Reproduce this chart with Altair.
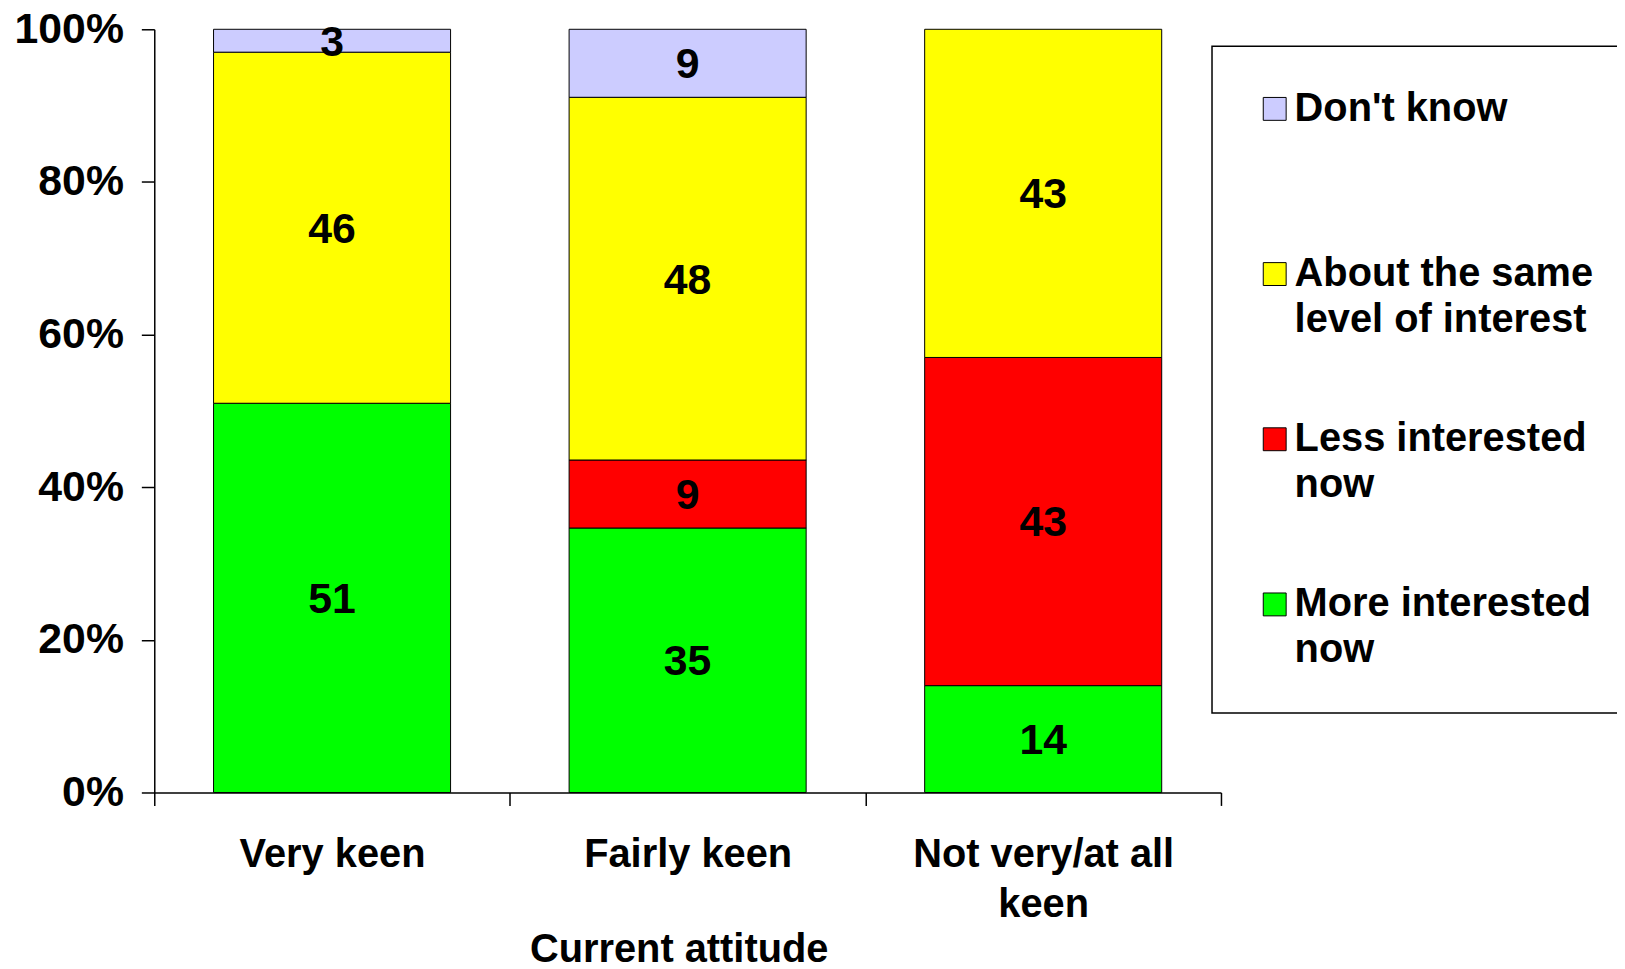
import json
import altair as alt
import pandas as pd

# ---- data ----
attitudes = ["Very keen", "Fairly keen", "Not very/at all keen"]
responses = ["More interested now", "Less interested now",
             "About the same level of interest", "Don't know"]  # stack order bottom->top
values = {
    "More interested now": [51, 35, 14],
    "Less interested now": [0, 9, 43],
    "About the same level of interest": [46, 48, 43],
    "Don't know": [3, 9, 0],
}
legend_order = ["Don't know", "About the same level of interest",
                "Less interested now", "More interested now"]
colors = ["#CCCCFF", "#FFFF00", "#FF0000", "#00FF00"]
y_ticks = [0, 0.2, 0.4, 0.6, 0.8, 1.0]

legend_lines = {
    "Don't know": ["Don't know"],
    "About the same level of interest": ["About the same", "level of interest"],
    "Less interested now": ["Less interested", "now"],
    "More interested now": ["More interested", "now"],
}
axis_lines = {
    "Very keen": ["Very keen"],
    "Fairly keen": ["Fairly keen"],
    "Not very/at all keen": ["Not very/at all", "keen"],
}

rows = []
for r_i, r in enumerate(responses):
    for a_i, a in enumerate(attitudes):
        v = values[r][a_i]
        if v > 0:
            rows.append({"attitude": a, "response": r, "value": v, "order": r_i})
df = pd.DataFrame(rows)


def label_expr(mapping):
    expr = "datum.label"
    for k, v in mapping.items():
        expr = f"datum.label == {json.dumps(k)} ? {json.dumps(v)} : (" + expr + ")"
    return expr


FONT = "Liberation Sans"

base = alt.Chart(df).transform_stack(
    stack="value",
    groupby=["attitude"],
    as_=["y0", "y1"],
    offset="normalize",
    sort=[alt.SortField("order", order="ascending")],
)

x_enc = alt.X(
    "attitude:N",
    sort=attitudes,
    scale=alt.Scale(paddingInner=0, paddingOuter=0),
    axis=alt.Axis(
        title="Current attitude",
        titleFont=FONT, titleFontSize=40, titleFontWeight="bold", titleColor="black",
        titleX=527, titleY=170, titleBaseline="alphabetic", titleAlign="center",
        labelAngle=0, labelFont=FONT, labelFontSize=40, labelFontWeight="bold",
        labelColor="black", labelBaseline="top", labelPadding=29, labelLineHeight=51,
        labelExpr=label_expr(axis_lines), labelLimit=600,
        tickBand="extent", tickSize=13, tickColor="black", tickWidth=1.5,
        domainColor="black", domainWidth=1.5,
    ),
)

bars = base.mark_bar(
    stroke="black", strokeWidth=1, width=alt.RelativeBandSize(band=2 / 3)
).encode(
    x=x_enc,
    y=alt.Y(
        "y0:Q",
        scale=alt.Scale(domain=[0, 1]),
        axis=alt.Axis(
            title=None, values=y_ticks, format=".0%",
            labelFont=FONT, labelFontSize=43, labelFontWeight="bold", labelColor="black",
            labelPadding=18, tickSize=13, tickColor="black", tickWidth=1.5,
            domainColor="black", domainWidth=1.5, grid=False,
        ),
    ),
    y2="y1:Q",
    color=alt.Color(
        "response:N",
        scale=alt.Scale(domain=legend_order, range=colors),
        legend=alt.Legend(
            title=None, orient="none", legendX=1063, legendY=17,
            padding=43, symbolType="square", symbolSize=23 * 23,
            symbolStrokeColor="black", symbolStrokeWidth=1, symbolOffset=0,
            labelFont=FONT, labelFontSize=40, labelFontWeight="bold", labelColor="black",
            labelLimit=600, labelOffset=0, rowPadding=80, gridAlign="all",
            labelExpr=label_expr(legend_lines),
            fillColor="white", strokeColor="black",
        ),
    ),
)

labels = base.transform_calculate(mid="(datum.y0 + datum.y1) / 2").mark_text(
    font=FONT, fontSize=43, fontWeight="bold", color="black", baseline="middle", dy=2
).encode(
    x=alt.X("attitude:N", sort=attitudes),
    y=alt.Y("mid:Q"),
    text=alt.Text("value:Q"),
)

chart = (
    alt.layer(bars, labels)
    .properties(
        width=1072, height=767,
        autosize=alt.AutoSizeParams(type="none"),
        padding={"left": 147, "top": 19, "right": 398, "bottom": 175},
    )
    .configure(style={"guide-label": {"lineHeight": 46}})
    .configure_view(stroke=None)
    .configure_legend(strokeWidth=1.5)
)

chart.save("out.html", embed_options={"renderer": "svg", "actions": False})
